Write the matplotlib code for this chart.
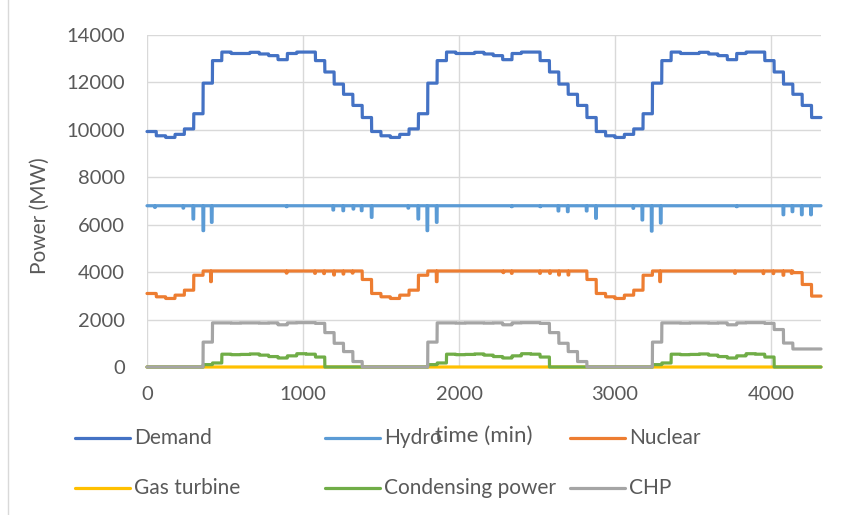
import numpy as np
import matplotlib
matplotlib.use("Agg")
import matplotlib.pyplot as plt
from matplotlib.lines import Line2D

plt.rcParams['font.family'] = ['Lato', 'DejaVu Sans']

# Hourly values (MW), three days of 24 hours each
demand_mw = [
    9930, 9750, 9680, 9810, 10040, 10680, 11970, 12920, 13280, 13220, 13220, 13270,
    13200, 13130, 12960, 13220, 13280, 13280, 12920, 12440, 11930, 11500, 11030, 10520,
    9930, 9750, 9680, 9810, 10040, 10680, 11970, 12920, 13280, 13220, 13220, 13270,
    13200, 13130, 12960, 13220, 13280, 13280, 12920, 12440, 11930, 11500, 11030, 10520,
    9930, 9750, 9680, 9810, 10040, 10680, 11970, 12920, 13280, 13220, 13220, 13270,
    13200, 13130, 12960, 13220, 13280, 13280, 12920, 12440, 11930, 11500, 11030, 10520,
]
nuclear_mw = [
    3100, 2960, 2890, 3030, 3240, 3870, 4050, 4050, 4050, 4050, 4050, 4050,
    4050, 4050, 4050, 4050, 4050, 4050, 4050, 4050, 4050, 4050, 4050, 3690,
    3100, 2960, 2890, 3030, 3240, 3870, 4050, 4050, 4050, 4050, 4050, 4050,
    4050, 4050, 4050, 4050, 4050, 4050, 4050, 4050, 4050, 4050, 4050, 3690,
    3100, 2960, 2890, 3030, 3240, 3870, 4050, 4050, 4050, 4050, 4050, 4050,
    4050, 4050, 4050, 4050, 4050, 4050, 4050, 4050, 4050, 3980, 3480, 2990,
]
gas_turbine_mw = [0] * 72
condensing_mw = [
    0, 0, 0, 0, 0, 0, 100, 170, 540, 520, 530, 550,
    500, 440, 380, 470, 560, 540, 420, 0, 0, 0, 0, 0,
    0, 0, 0, 0, 0, 0, 100, 170, 540, 520, 530, 550,
    500, 440, 380, 470, 560, 540, 420, 0, 0, 0, 0, 0,
    0, 0, 0, 0, 0, 0, 100, 170, 540, 520, 530, 550,
    500, 440, 380, 470, 560, 540, 420, 0, 0, 0, 0, 0,
]
chp_mw = [
    0, 0, 0, 0, 0, 0, 1050, 1860, 1860, 1850, 1860, 1860,
    1850, 1860, 1780, 1860, 1870, 1870, 1840, 1450, 1000, 650, 230, 0,
    0, 0, 0, 0, 0, 0, 1050, 1860, 1860, 1850, 1860, 1860,
    1850, 1860, 1780, 1860, 1870, 1870, 1840, 1450, 1000, 650, 230, 0,
    0, 0, 0, 0, 0, 0, 1050, 1860, 1860, 1850, 1860, 1860,
    1850, 1860, 1780, 1860, 1870, 1870, 1840, 1580, 1010, 760, 760, 760,
]

# Hydro runs at a flat level with short dips
hydro_base_mw = 6800
hydro_dip_min = [51, 233, 297, 361, 415, 895, 1194, 1258, 1323, 1376, 1440,
                 1675, 1739, 1797, 1857, 2338, 2521, 2637, 2697, 2818, 2878,
                 3117, 3175, 3235, 3293, 3780, 4079, 4137, 4197, 4256]
hydro_dip_mw = [6730, 6700, 6240, 5750, 6100, 6760, 6620, 6590, 6660, 6590, 6310,
                6700, 6240, 5750, 6100, 6760, 6760, 6580, 6550, 6580, 6270,
                6690, 6200, 5730, 6070, 6760, 6420, 6550, 6420, 6420]

# Short nuclear dips
nuclear_dip_min = [410, 895, 1077, 1135, 1199, 1259, 1318,
                   1857, 2284, 2338, 2519, 2583, 2641, 2701,
                   3289, 3769, 3951, 4015, 4079, 4132]
nuclear_dip_mw = [3600, 3960, 3950, 3940, 3880, 3920, 3960,
                  3600, 3980, 3950, 3950, 3950, 3880, 3880,
                  3600, 3950, 3940, 3940, 3870, 3950]

series_names = ["Demand", "Hydro", "Nuclear", "Gas turbine", "Condensing power", "CHP"]
series_colors = ["#4472C4", "#5B9BD5", "#ED7D31", "#FFC000", "#70AD47", "#A5A5A5"]

# Minute-resolution profiles
minutes = np.arange(0, 4321)
hour_idx = np.minimum(minutes // 60, 71)


def hourly(values):
    return np.asarray(values, dtype=float)[hour_idx]


def with_dips(profile, dip_t, dip_v, half_width=2):
    out = profile.copy()
    for t, v in zip(dip_t, dip_v):
        out[np.abs(minutes - t) <= half_width] = v
    return out


hydro = with_dips(np.full(minutes.shape, float(hydro_base_mw)), hydro_dip_min, hydro_dip_mw)
nuclear = with_dips(hourly(nuclear_mw), nuclear_dip_min, nuclear_dip_mw)
profiles = [hourly(demand_mw), hydro, nuclear, hourly(gas_turbine_mw),
            hourly(condensing_mw), hourly(chp_mw)]

W, H = 855, 515
fig = plt.figure(figsize=(W / 100, H / 100), dpi=100)
ax = fig.add_axes([147 / W, 1 - 367 / H, (821 - 147) / W, (367 - 35) / H])

for name, color, prof in zip(series_names, series_colors, profiles):
    ax.plot(minutes, prof, color=color, lw=2.3, label=name, clip_on=False,
            solid_joinstyle='round', solid_capstyle='round')

ax.set_xlim(0, 4320)
ax.set_ylim(0, 14000)
ax.set_xticks(np.arange(0, 4001, 1000))
ax.set_yticks(np.arange(0, 14001, 2000))
ax.grid(True, color="#d9d9d9", lw=1.0)
ax.set_axisbelow(True)
for s in ax.spines.values():
    s.set_visible(False)
ax.tick_params(length=0, labelsize=14.5, labelcolor="#595959")
ax.tick_params(axis='y', pad=16)
ax.tick_params(axis='x', pad=14)

fig.text(40 / W, 1 - 216 / H, "Power (MW)", rotation=90, ha='center', va='center',
         fontsize=15, color="#595959")
fig.text(484 / W, 1 - 436 / H, "time (min)", ha='center', va='center',
         fontsize=16, color="#595959")

# Legend: three columns, two rows
col_x = [75, 325, 570]
row_y = [438, 488]
for i, (name, color) in enumerate(zip(series_names, series_colors)):
    x0 = col_x[i % 3]
    y0 = 1 - row_y[i // 3] / H
    fig.add_artist(Line2D([x0 / W, (x0 + 55) / W], [y0, y0], color=color, lw=2.3,
                          solid_capstyle='round'))
    fig.text((x0 + 59) / W, y0, name, ha='left', va='center', fontsize=15,
             color="#595959")

# Chart area border at the left edge
fig.add_artist(Line2D([8 / W, 8 / W], [0, 1], color="#d9d9d9", lw=1.0))

fig.savefig("out.png", dpi=100)
